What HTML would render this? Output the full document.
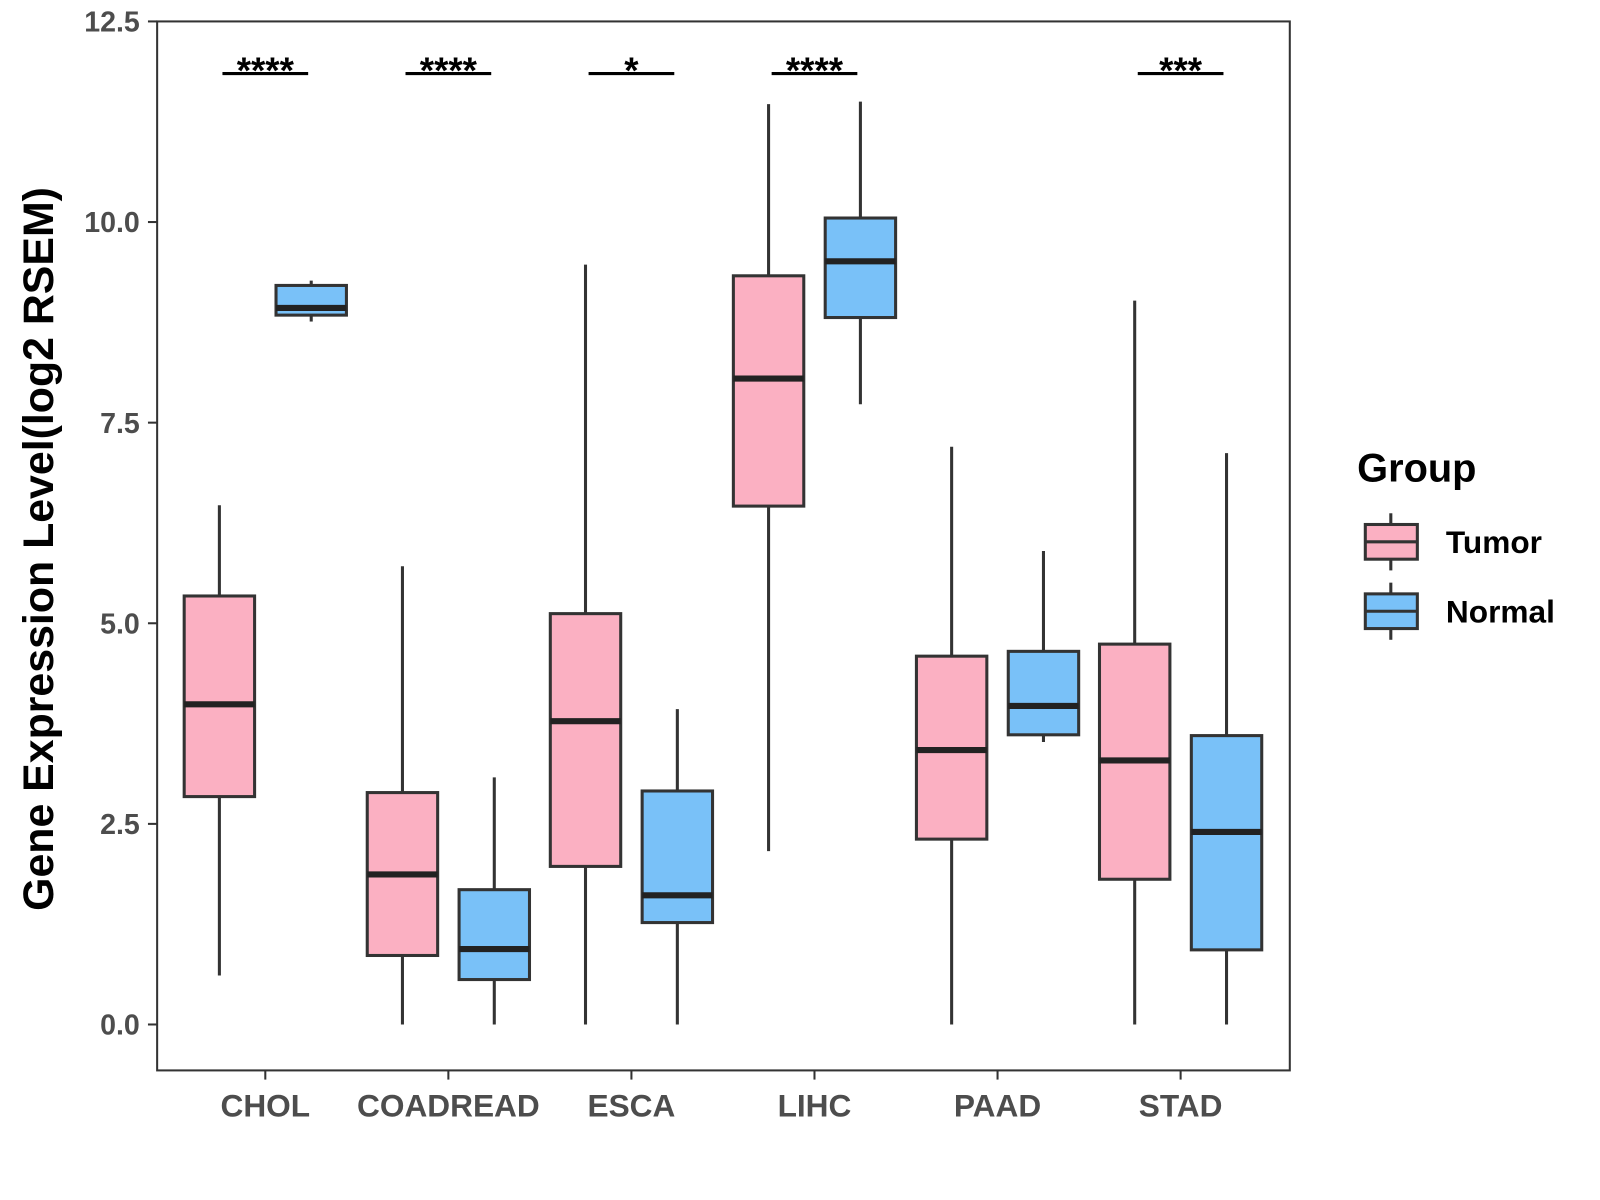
<!DOCTYPE html>
<html><head><meta charset="utf-8"><style>
html,body{margin:0;padding:0;background:#fff}
svg{display:block;font-family:"Liberation Sans",Arial,sans-serif}
</style></head><body>
<svg id="chart" width="1600" height="1200" viewBox="0 0 1568 1176">
<rect x="154" y="21" width="1110" height="1028" fill="#fff" stroke="#333" stroke-width="2"/>
<g id="marks"></g>
<text transform="translate(52,538) rotate(-90)" text-anchor="middle" font-size="42" font-weight="bold" fill="#000">Gene Expression Level(log2 RSEM)</text>
<g>
<text x="1330" y="472" font-size="39" font-weight="bold">Group</text>
<g>
<line x1="1363" y1="503" x2="1363" y2="559" stroke="#333" stroke-width="3"/>
<rect x="1338" y="514" width="51" height="34" fill="#fbb0c2" stroke="#333" stroke-width="3"/>
<line x1="1338" y1="531" x2="1389" y2="531" stroke="#333" stroke-width="3"/>
<text x="1417" y="542" font-size="31" font-weight="bold">Tumor</text></g>
<g>
<line x1="1363" y1="571" x2="1363" y2="627" stroke="#333" stroke-width="3"/>
<rect x="1338" y="582" width="51" height="34" fill="#79c1f8" stroke="#333" stroke-width="3"/>
<line x1="1338" y1="599" x2="1389" y2="599" stroke="#333" stroke-width="3"/>
<text x="1417" y="610" font-size="31" font-weight="bold">Normal</text></g>
</g>
</svg>
<script>
const categories=["CHOL","COADREAD","ESCA","LIHC","PAAD","STAD"];
const tumorStats=[[0.61,2.84,3.99,5.34,6.47],[0,0.86,1.87,2.89,5.71],[0,1.97,3.78,5.12,9.47],[2.16,6.46,8.05,9.33,11.47],[0,2.31,3.42,4.59,7.2],[0,1.81,3.29,4.74,9.02]];
const normalStats=[[8.76,8.84,8.93,9.21,9.27],[0,0.56,0.94,1.68,3.08],[0,1.27,1.61,2.91,3.93],[7.73,8.81,9.51,10.05,11.5],[3.52,3.61,3.97,4.65,5.9],[0,0.93,2.40,3.6,7.12]];
const signif=["****","****","*","****","","***"];
const yTicks=[0,2.5,5,7.5,10,12.5];
const yLabels=["0.0","2.5","5.0","7.5","10.0","12.5"];
const sigLevel=11.85;
const NS="http://www.w3.org/2000/svg";
const yS=v=>1004-v*78.64;
const xS=i=>260+i*179.4;
const g=document.getElementById("marks");
function mk(t,a){const e=document.createElementNS(NS,t);for(const k in a)e.setAttribute(k,a[k]);g.appendChild(e);return e;}
yTicks.forEach((t,i)=>{
 const l=mk("line",{x1:145,x2:154,y1:yS(t),y2:yS(t),stroke:"#333","stroke-width":2});
 
 
 const tx=mk("text",{x:137,y:yS(t)+10,"text-anchor":"end","font-size":28,"font-weight":"bold",fill:"#4d4d4d"});
 tx.textContent=yLabels[i];
 
 
});
categories.forEach((c,i)=>{
 const cx=xS(i);
 const l=mk("line",{x1:cx,x2:cx,y1:1049,y2:1058,stroke:"#333","stroke-width":2});
 
 
 const tx=mk("text",{x:cx,y:1094,"text-anchor":"middle","font-size":31,"font-weight":"bold",fill:"#4d4d4d"});
 tx.textContent=c;
 
 
 [[tumorStats[i],-45,"#fbb0c2","tumor"],[normalStats[i],45,"#79c1f8","normal"]].forEach(([s,off,col,nm])=>{
  const bx=cx+off, w=69;
  const wl=mk("line",{x1:bx,x2:bx,y1:yS(s[0]),y2:yS(s[4]),stroke:"#333","stroke-width":3});
  
  
  const r=mk("rect",{x:bx-w/2,y:yS(s[3]),width:w,height:yS(s[1])-yS(s[3]),fill:col,stroke:"#333","stroke-width":3});
  
  
  const m=mk("line",{x1:bx-w/2,x2:bx+w/2,y1:yS(s[2]),y2:yS(s[2]),stroke:"#222","stroke-width":6});
  
  
 });
 if(signif[i]){
  const b=mk("line",{x1:cx-42,x2:cx+42,y1:yS(sigLevel),y2:yS(sigLevel),stroke:"#000","stroke-width":3});
  
  
  const st=mk("text",{x:cx,y:yS(sigLevel)+9,"text-anchor":"middle","font-size":36,"font-weight":"bold",fill:"#000"});
  st.textContent=signif[i];
  
  
 }
});
</script>
</body></html>
